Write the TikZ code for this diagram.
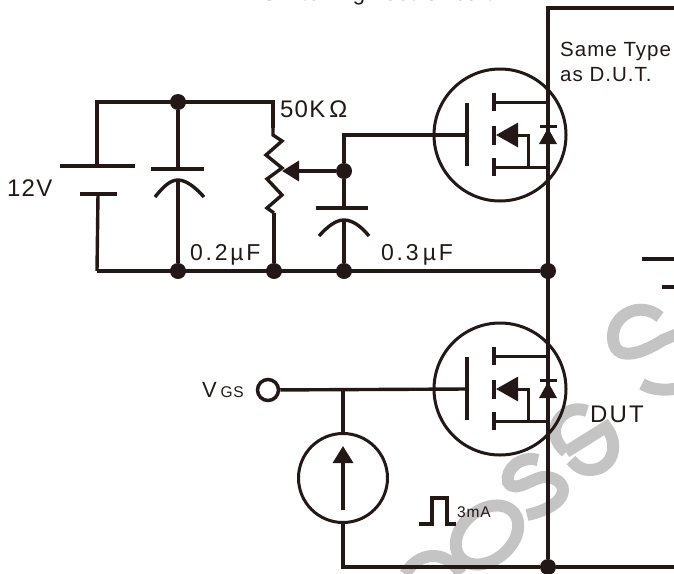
\documentclass[tikz,border=0pt]{standalone}
\usepackage{fontspec}
\setmainfont[LetterSpace=5]{Liberation Sans}
\usepackage{tikz}
\usetikzlibrary{arrows.meta,positioning}
\definecolor{ink}{HTML}{231815}
\definecolor{mark}{HTML}{C4C4C4}
\tikzset{
  wire/.style={line width=3.4pt,draw=ink},
  thin wire/.style={line width=3pt,draw=ink},
  dot/.style={circle,fill=ink,inner sep=0pt,minimum size=16pt},
  ring/.style={circle,draw=ink,line width=3pt,inner sep=0pt,minimum size=#1},
  tip/.style={-{Triangle[length=17pt,width=20pt,sep=0pt]},ink},
  big tip/.style={-{Triangle[length=22pt,width=24pt,sep=0pt]},ink},
  stamp/.style={line width=12pt,draw=mark,line cap=butt},
  big/.style={font=\fontsize{24}{26}\selectfont,text=ink,inner sep=0pt,anchor=base west},
  mid/.style={font=\fontsize{20.5}{22}\selectfont,text=ink,inner sep=0pt,anchor=base west},
  wide/.style={font=\fontsize{23}{25}\selectfont\addfontfeature{LetterSpace=12},text=ink,inner sep=0pt,anchor=base west},
  fet/.pic={
    \node[ring=132pt] (-c) at (0,0) {};
    \coordinate (-g) at (-33,0);
    \draw[wire] (-33,-32) -- (-33,31);
    \draw[line width=4pt,draw=ink] (-6,-42) -- (-6,-24);
    \draw[line width=4pt,draw=ink] (-6,-9) -- (-6,10);
    \draw[line width=4pt,draw=ink] (-6,23) -- (-6,41);
    \draw[thin wire] (-6,-33) -- (48,-33);
    \draw[thin wire] (-6,32) -- (48,32);
    \draw[thin wire,big tip] (28,32) -- (28,0) -- (-4,0);
    \fill[ink] (48,-7) -- (57,9) -- (39,9) -- cycle;
    \draw[thin wire] (40,-9) -- (57,-9);
  }
}
\begin{document}
\begin{tikzpicture}[x=1pt,y=-1pt,on grid]
\useasboundingbox (0,0) rectangle (674,573);
\clip (0,0) rectangle (674,573);

%% stamp behind the circuit
\draw[stamp] (660,317) .. controls (640,300) and (612,315) .. (613,338) .. controls (614,362) and (640,355) .. (663,340) -- (680,333);
\draw[stamp] (642,384) .. controls (652,390) and (665,391) .. (680,388);
\draw[stamp] (587,411) .. controls (565,402) and (540,430) .. (566,452);
\draw[stamp] (566,452) -- (606,427) .. controls (620,445) and (612,465) .. (597,469) .. controls (585,472) and (578,468) .. (571,460);
\draw[stamp] (538,460) .. controls (520,455) and (505,470) .. (508,482) .. controls (515,495) and (535,475) .. (547,477) .. controls (570,480) and (572,505) .. (527,515);
\draw[stamp] (487,535) ellipse [x radius=35pt,y radius=25pt,rotate=40];
\draw[stamp] (405,574) .. controls (418,552) and (445,548) .. (461,574);

%% first row
\node[dot] (j_1) at (178,102) {};
\node[dot] (j_2) [below=169pt of j_1] {};
\node[dot] (j_3) [right=96pt of j_2] {};
\node[dot] (j_4) [right=70pt of j_3] {};
\node[dot] (j_5) [right=204pt of j_4] {};
\node[dot] (j_6) [above=100pt of j_4] {};
\node[dot] (j_7) at (548,567) {};

\coordinate (a_1) at (97,102);
\coordinate (a_2) at (273,102);
\coordinate (a_3) at (97,271);
\coordinate (t_1) at (548,8);
\coordinate (t_2) at (674,8);
\coordinate (e_1) at (674,567);

\coordinate (b_1) at (97,166);
\coordinate (b_2) at (98,194);
\coordinate (c_1) at (178,169);
\coordinate (c_2) at (178,180);
\coordinate (c_3) at (344,208);
\coordinate (c_4) at (344,220);
\coordinate (r_1) at (273,128);
\coordinate (r_2) at (274,213);
\coordinate (r_3) at (282,171);

\pic (m_1) at (500,135) {fet};
\pic (m_2) at (500,389) {fet};

\draw[wire] (t_2) -- (t_1) -- (j_7) -- (e_1);
\draw[wire] (a_3) -- (j_5);
\draw[wire] (b_1) -- (a_1) -- (a_2) -- (r_1);
\draw[wire] (b_2) -- (a_3);
\draw[wire] (j_1) -- (c_1);
\draw[wire] (c_2) -- (j_2);
\draw[wire] (r_2) -- (j_3);
\draw[wire] (j_4) -- (c_4);
\draw[wire] (c_3) -- (j_6) |- (m_1-g);
\draw[wire,tip] (j_6) -- (r_3);

%% resistor
\draw[wire] (r_1) -- ++(0,7) -- (282,141) -- (266,155) -- (282,168) -- (267,179) -- (282,195) -- (267,208) -- (r_2);

%% battery and capacitors
\draw[wire] (60,166) -- (135,166);
\draw[wire] (80,194) -- (117,194);
\draw[wire] (151,169) -- (204,169);
\draw[wire] (155,197) .. controls (163,187) and (170,180) .. (c_2) .. controls (186,180) and (195,187) .. (204,197);
\draw[wire] (316,208) -- (368,208);
\draw[wire] (319,236) .. controls (328,226) and (336,220) .. (c_4) .. controls (352,220) and (361,226) .. (369,236);
\draw[wire] (642,259) -- (674,259);
\draw[wire] (662,287) -- (674,287);

%% lower gate
\node[ring=21pt,line width=3.5pt] (g_1) at (268,390) {};
\node[ring=89pt] (s_1) at (343,478) {};
\coordinate (s_2) at (343,389);
\coordinate (s_3) at (343,567);
\coordinate (s_4) at (343,510);
\coordinate (s_5) at (343,446);
\draw[wire] (g_1) -- (m_2-g);
\draw[wire] (s_2) -- (s_1);
\draw[wire] (s_1) -- (s_3) -- (j_7);
\draw[wire,tip] (s_4) -- (s_5);
\draw[wire] (419,524) -- (432,524) -- (432,498) -- (447,498) -- (447,524) -- (456,524);

%% labels
\node[big,font=\fontsize{22}{24}\selectfont] (l_0) at (262,0.5) {Switching Test Circuit};
\node[mid] (l_1) at (560,56) {Same Type};
\node[mid] (l_2) at (560,81) {as D.U.T.};
\node[big] (l_3) at (280,117) {50K$\,$Ω};
\node[big] (l_4) at (7,196) {12V};
\node[wide] (l_5) at (190,260) {0.2µF};
\node[wide] (l_6) at (381,260) {0.3$\,$µF};
\node[big,font=\fontsize{24}{26}\selectfont\addfontfeature{LetterSpace=9}] (l_7) at (590,422) {DUT};
\node[big,font=\fontsize{22}{24}\selectfont] (l_8) at (202,397) {V\,{\fontsize{15.5}{17}\selectfont GS}};
\node[big,font=\fontsize{15.5}{17}\selectfont] (l_9) at (457,517) {3mA};
\end{tikzpicture}
\end{document}
